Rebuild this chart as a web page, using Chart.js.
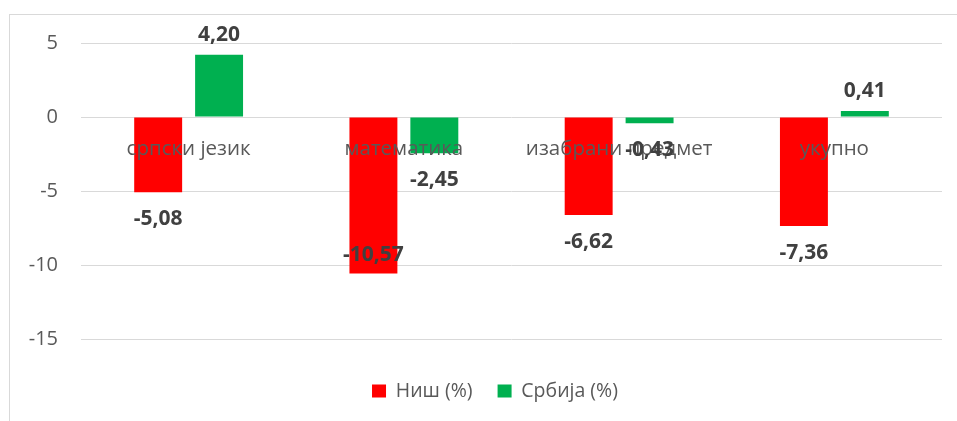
<!DOCTYPE html>
<html>
<head>
<meta charset="utf-8">
<script src="https://cdn.jsdelivr.net/npm/chart.js@4.4.0/dist/chart.umd.min.js"></script>
<style>
  html, body { margin: 0; padding: 0; background: #fff; overflow: hidden; }
  #wrap { position: relative; width: 957px; height: 421px; }
  #frame { position: absolute; left: 9px; top: 14px; width: 960px; height: 420px; border: 1px solid #d9d9d9; }
  canvas { position: absolute; left: 0; top: 0; }
</style>
</head>
<body>
<div id="wrap">
  <div id="frame"></div>
  <canvas id="myChart" width="957" height="421"></canvas>
</div>
<script>
// podaci
const categories = ["српски језик", "математика", "изабрани предмет", "укупно"];
const nisValues = [-5.08, -10.57, -6.62, -7.36];
const srbijaValues = [4.20, -2.45, -0.43, 0.41];
const seriesNames = ["Ниш (%)", "Србија (%)"];
const yTicks = [5, 0, -5, -10, -15];

const FONT = "'Open Sans', 'DejaVu Sans', sans-serif";

// vrednosti iznad/ispod stubova (zarez kao decimalni separator)
const valueLabels = {
  id: "valueLabels",
  afterDraw(chart, args, opts) {
    const ctx = chart.ctx;
    ctx.save();
    ctx.font = "bold 21px " + FONT;
    ctx.fillStyle = "#404040";
    ctx.textAlign = "center";
    ctx.textBaseline = "middle";
    chart.data.datasets.forEach(function (ds, di) {
      chart.getDatasetMeta(di).data.forEach(function (bar, i) {
        const v = ds.data[i];
        const inside = (opts.inside || []).some(function (p) { return p[0] === di && p[1] === i; });
        let y;
        if (v >= 0) y = bar.y - 20;
        else if (inside) y = bar.y - 18;
        else y = bar.y + 27;
        ctx.fillText(v.toFixed(2).replace(".", ","), bar.x, y);
      });
    });
    ctx.restore();
  }
};

// legenda centrirana u okviru celog grafikona, ne samo platna
const legendShift = {
  id: "legendShift",
  afterLayout(chart, args, opts) {
    chart.legend.left += opts.dx;
    chart.legend.right += opts.dx;
  }
};

let ctx = document.getElementById("myChart").getContext("2d");
let myChart = new Chart(ctx, {
  type: "bar",
  data: {
    labels: categories,
    datasets: [
      {
        label: seriesNames[0],
        data: nisValues,
        backgroundColor: "#ff0000",
        borderWidth: 0,
        categoryPercentage: 0.566,
        barPercentage: 0.787,
      },
      {
        label: seriesNames[1],
        data: srbijaValues,
        backgroundColor: "#00b050",
        borderWidth: 0,
        categoryPercentage: 0.566,
        barPercentage: 0.787,
      },
    ],
  },
  options: {
    responsive: false,
    animation: false,
    layout: { padding: { top: 43, right: 15, bottom: 10.25, left: 0 } },
    scales: {
      y: {
        min: -15,
        max: 5,
        afterBuildTicks: function (s) { s.ticks = yTicks.map(function (v) { return { value: v }; }); },
        afterFit: function (s) { s.width = 81; },
        grid: { color: "#d9d9d9", lineWidth: 1, drawTicks: false },
        border: { display: false },
        ticks: { padding: 23, color: "#595959", font: { family: FONT, size: 20 } },
      },
      x: {
        position: { y: 0 },
        grid: { display: false },
        border: { display: false },
        ticks: { padding: 12, z: 1, color: "#595959", font: { family: FONT, size: 20.5 }, maxRotation: 0 },
      },
      spacer: {
        type: "linear",
        position: "bottom",
        grid: { display: false },
        border: { display: false },
        ticks: { display: false },
        afterFit: function (s) { s.height = 17.25; },
      },
    },
    plugins: {
      legend: {
        position: "bottom",
        labels: {
          boxWidth: 14,
          boxHeight: 13,
          padding: 25,
          color: "#595959",
          font: { family: FONT, size: 19.5 },
        },
      },
      tooltip: { enabled: false },
      valueLabels: { inside: [[0, 1]] },
      legendShift: { dx: 24 },
    },
  },
  plugins: [valueLabels, legendShift],
});
</script>
</body>
</html>
